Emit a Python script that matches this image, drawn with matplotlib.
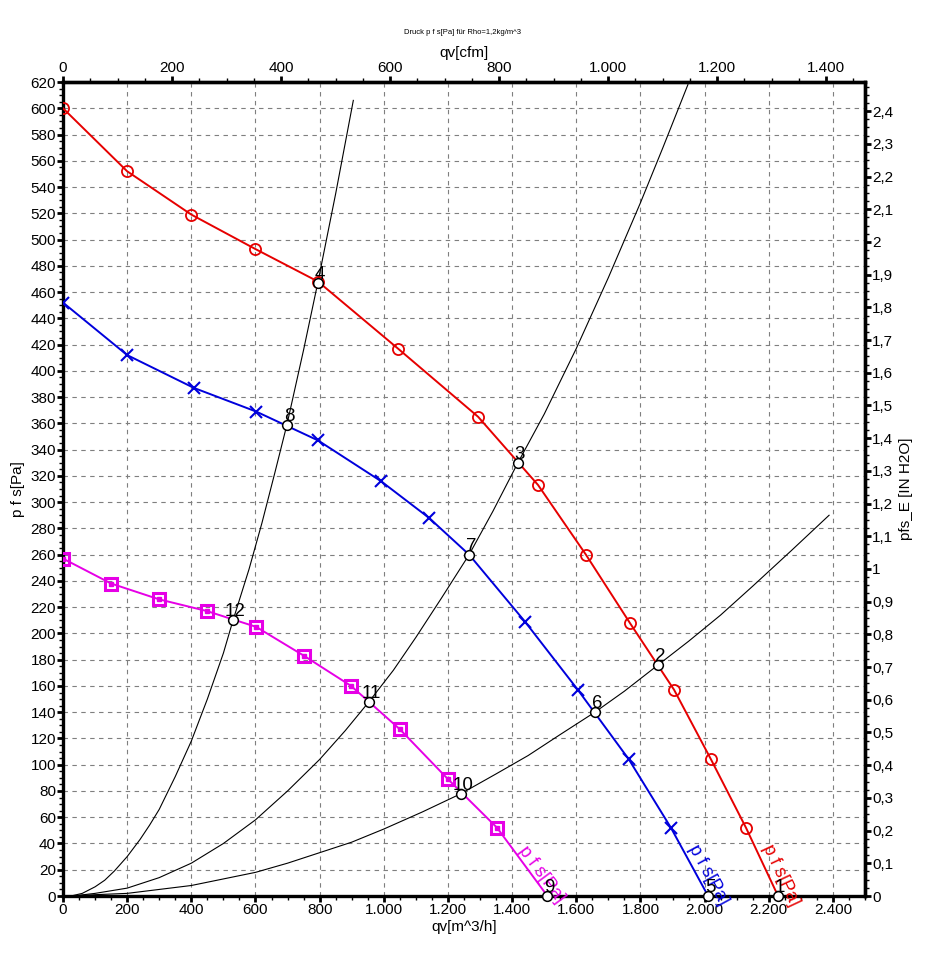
import numpy as np
import matplotlib.pyplot as plt
from matplotlib.ticker import MultipleLocator, FuncFormatter

plt.rcParams['font.family'] = ['Liberation Sans', 'DejaVu Sans']

# fan curves, qv [m^3/h] and p f s [Pa]
red_q = [0, 200, 400, 598, 795, 1044, 1294, 1481, 1630, 1767, 1905, 2020, 2129, 2229]
red_p = [600, 552, 519, 493, 468, 417, 365, 313, 260, 208, 157, 104, 52, 0]

blue_q = [0, 200, 408, 602, 795, 991, 1141, 1266, 1440, 1605, 1764, 1895, 2011]
blue_p = [452, 412, 387, 369, 347, 316, 288, 260, 209, 157, 104, 52, 0]

mag_q = [0, 150, 299, 449, 602, 751, 898, 1050, 1200, 1353, 1510]
mag_p = [257, 238, 226, 217, 205, 183, 160, 127, 89, 52, 0]

# system curves
sysA_q = [25, 60, 100, 130, 160, 200, 240, 270, 300, 350, 400, 450, 500, 530, 580, 620,
          660, 698, 750, 795, 850, 905]
sysA_p = [0, 2, 7, 12, 19, 30, 43, 54, 66, 91, 118, 150, 185, 210, 249, 284,
          322, 359, 416, 468, 535, 606]
sysB_q = [30, 100, 200, 300, 400, 500, 600, 700, 800, 880, 954, 1030, 1100, 1180, 1266,
          1340, 1418, 1500, 1600, 1700, 1800, 1870, 1948]
sysB_p = [0, 2, 6, 14, 25, 40, 58, 80, 104, 126, 148, 172, 197, 227, 260,
          293, 330, 367, 417, 471, 528, 570, 618]
sysC_q = [30, 100, 200, 300, 400, 500, 600, 700, 800, 900, 1000, 1120, 1241, 1350, 1450,
          1550, 1658, 1750, 1855, 1950, 2050, 2150, 2270, 2388]
sysC_p = [0, 1, 2, 5, 8, 13, 18, 25, 33, 41, 51, 64, 78, 93, 107,
          123, 140, 156, 176, 194, 214, 236, 263, 290]

# operating points
op_q = [2229, 1855, 1418, 795, 2011, 1658, 1266, 698, 1510, 1241, 954, 530]
op_p = [0, 176, 330, 467, 0, 140, 260, 359, 0, 78, 148, 210]
op_lbl = ['1', '2', '3', '4', '5', '6', '7', '8', '9', '10', '11', '12']

RED = '#e60000'
BLUE = '#0000dc'
MAG = '#e600e6'

M3H_PER_CFM = 1.69901
PA_PER_INH2O = 249.089

fig = plt.figure(figsize=(9.25, 9.64), dpi=100)
ax = fig.add_axes([63/925, 68/964, 802/925, 814/964])
ax.set_xlim(0, 2500)
ax.set_ylim(0, 620)

ax.grid(True, which='major', color='#7f7f7f', linestyle=(0, (4, 4)), linewidth=0.8)
ax.set_axisbelow(True)

for q, p in [(sysA_q, sysA_p), (sysB_q, sysB_p), (sysC_q, sysC_p)]:
    ax.plot(q, p, color='black', lw=0.8, zorder=2)

ax.plot(red_q, red_p, color=RED, lw=1.4, marker='o', ms=8, mfc='none', mec=RED, mew=1.3,
        markevery=list(range(0, 13)), zorder=3)
ax.plot(blue_q, blue_p, color=BLUE, lw=1.4, marker='x', ms=9, mec=BLUE, mew=1.5,
        markevery=[0, 1, 2, 3, 4, 5, 6, 8, 9, 10, 11], zorder=3)
ax.plot(mag_q, mag_p, color=MAG, lw=1.4, marker='s', ms=8, mfc='none', mec=MAG, mew=2.2,
        markevery=list(range(0, 10)), zorder=3)
ax.plot(mag_q[:-1], mag_p[:-1], ls='none', marker='s', ms=2.5, mfc=MAG, mec=MAG, zorder=3)

ax.plot(op_q, op_p, ls='none', marker='o', ms=7, mfc='white', mec='black', mew=1.1,
        zorder=4, clip_on=False)
for q, p, s in zip(op_q, op_p, op_lbl):
    ax.annotate(s, (q, p), xytext=(2, 0), textcoords='offset pixels',
                ha='center', va='bottom', fontsize=13.5, zorder=5)

# curve names along the last segment
for q, p, c in [(red_q, red_p, RED), (blue_q, blue_p, BLUE), (mag_q, mag_p, MAG)]:
    a = ax.transData.transform((q[-2], p[-2]))
    b = ax.transData.transform((q[-1], p[-1]))
    ang = np.degrees(np.arctan2(b[1] - a[1], b[0] - a[0]))
    ax.annotate('p f s[Pa]', ((q[-2] + q[-1]) / 2, (p[-2] + p[-1]) / 2),
                xytext=(19, -13), textcoords='offset pixels', rotation=ang,
                rotation_mode='anchor', ha='center', va='center',
                fontsize=13, color=c, annotation_clip=False)


def thousands(v, pos=None):
    return f"{int(round(v)):,}".replace(",", ".")


def inh2o(v, pos=None):
    s = f"{v:.1f}".replace(".", ",")
    if s.endswith(",0"):
        s = s[:-2]
    return s


ax.xaxis.set_major_locator(MultipleLocator(200))
ax.xaxis.set_minor_locator(MultipleLocator(50))
ax.yaxis.set_major_locator(MultipleLocator(20))
ax.yaxis.set_minor_locator(MultipleLocator(5))
ax.xaxis.set_major_formatter(FuncFormatter(thousands))
ax.tick_params(which='major', direction='out', length=4, width=2, labelsize=11, pad=1)
ax.tick_params(which='minor', direction='out', length=3, width=1)
ax.set_xlabel('qv[m^3/h]', fontsize=11, labelpad=2)
ax.set_ylabel('p f s[Pa]', fontsize=11, labelpad=4)

for sp in ax.spines.values():
    sp.set_linewidth(2.4)

top = ax.secondary_xaxis('top', functions=(lambda x: x / M3H_PER_CFM, lambda x: x * M3H_PER_CFM))
top.xaxis.set_major_locator(MultipleLocator(200))
top.xaxis.set_minor_locator(MultipleLocator(50))
top.xaxis.set_major_formatter(FuncFormatter(thousands))
top.tick_params(which='major', direction='out', length=4, width=2, labelsize=11, pad=1)
top.tick_params(which='minor', direction='out', length=3, width=1)
top.set_xlabel('qv[cfm]', fontsize=11, labelpad=3)
top.spines['top'].set_linewidth(2.4)

right = ax.secondary_yaxis('right', functions=(lambda p: p / PA_PER_INH2O, lambda w: w * PA_PER_INH2O))
right.yaxis.set_major_locator(MultipleLocator(0.1))
right.yaxis.set_minor_locator(MultipleLocator(0.025))
right.yaxis.set_major_formatter(FuncFormatter(inh2o))
right.tick_params(which='major', direction='out', length=4, width=2, labelsize=11, pad=1)
right.tick_params(which='minor', direction='out', length=3, width=1)
right.set_ylabel('pfs_E [IN H2O]', fontsize=11, labelpad=4)
right.spines['right'].set_linewidth(2.4)

fig.text(463/925, 1 - 33/964, 'Druck p f s[Pa] für Rho=1,2kg/m^3', ha='center', va='center', fontsize=5.5)

fig.savefig('out.png', dpi=100)
